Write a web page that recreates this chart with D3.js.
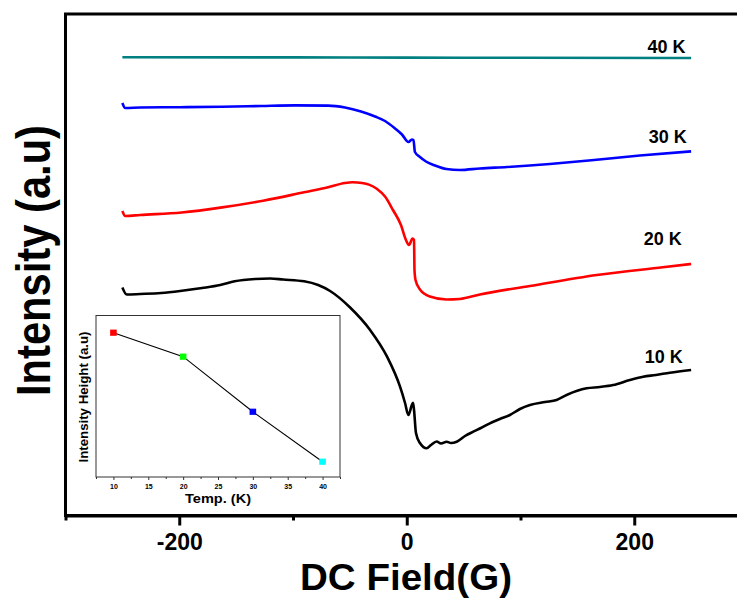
<!DOCTYPE html>
<html><head><meta charset="utf-8">
<script src="https://cdnjs.cloudflare.com/ajax/libs/d3/7.8.5/d3.min.js"></script>
<style>body{margin:0;background:#fff} svg{display:block}</style>
</head><body><svg id="c" width="737" height="599"></svg>
<script>
// ---- data ----
const fieldTicksMajor = [-200, 0, 200];
const fieldTicksMinor = [-300, -100, 100, 300];
const seriesNames = ["10 K", "20 K", "30 K", "40 K"];
const seriesColors = ["#000000", "#ff0000", "#0000ff", "#008080"];

const curve10K = [[-250,4.56],[-246.2,4.42],[-234.3,4.43],[-215.9,4.45],[-199.2,4.49],[-179.9,4.55],[-164,4.61],[-151.3,4.684],[-133.3,4.73],[-120.1,4.74],[-108.7,4.72],[-90.2,4.684],[-77.9,4.61],[-67.4,4.49],[-49.8,4.16],[-32.2,3.71],[-17.3,3.176],[-5.9,2.576],[-1.5,2.25],[1.4,2.01],[5.5,2.256],[6.4,2.11],[8.1,1.65],[11.6,1.45],[17.5,1.344],[21.3,1.41],[26.3,1.48],[30.1,1.44],[35.1,1.476],[38.9,1.45],[43.9,1.476],[51.2,1.59],[58.5,1.676],[65.2,1.75],[73.1,1.844],[81.9,1.93],[90.7,2.01],[99.5,2.13],[108.3,2.21],[121.5,2.27],[131.7,2.31],[140.5,2.41],[158.1,2.544],[169.8,2.57],[181.5,2.61],[196.2,2.71],[207.8,2.776],[219,2.81],[231.3,2.856],[250,2.91]];
const curve20K = [[-250,6.09],[-247.5,5.99],[-234.3,6.01],[-197.9,6.06],[-162.3,6.162],[-126.3,6.296],[-90.3,6.464],[-69.2,6.564],[-54.3,6.65],[-47.7,6.664],[-39.3,6.65],[-33.2,6.618],[-26.1,6.53],[-19.1,6.38],[-12.1,6.11],[-5.1,5.81],[-0.7,5.51],[2.0,5.41],[5.1,5.54],[6.4,5.51],[6.8,4.91],[7.7,4.71],[11.6,4.52],[20.4,4.38],[34.9,4.32],[46.7,4.33],[64.3,4.42],[108.3,4.59],[167.1,4.81],[225.1,4.964],[250,5.03]];
const curve30K = [[-250,8.25],[-247.5,8.15],[-234.3,8.16],[-199.2,8.166],[-162.3,8.174],[-128.2,8.19],[-98.2,8.202],[-69.2,8.198],[-54.3,8.16],[-40.2,8.08],[-27.9,7.98],[-19.1,7.89],[-10.3,7.74],[-4.2,7.62],[1.5,7.47],[4.6,7.52],[5.9,7.51],[7.2,7.27],[11.6,7.17],[16.9,7.08],[24.8,7.0],[34.9,6.93],[46.7,6.91],[64.3,6.94],[88.1,6.97],[125.8,7.03],[160.1,7.1],[204.9,7.2],[250,7.282]];
const curve40K = [[-250,9.164],[-100,9.162],[0,9.158],[100,9.155],[250,9.15]];
const labelAnchors = [[242.7,3.056],[241.8,5.41],[246.2,7.444],[245,9.256]];

const insetTemps = [10, 20, 30, 40];
const insetHeights = [0.8935, 0.745, 0.404, 0.0947];
const insetColors = ["#ff0000", "#00ff00", "#0000ff", "#00ffff"];
const insetTicksMajor = [10, 15, 20, 25, 30, 35, 40];
const insetTicksMinor = [7.5, 12.5, 17.5, 22.5, 27.5, 32.5, 37.5, 42.5];

// ---- drawing ----
const FONT = "'Liberation Sans', Arial, sans-serif";
const svg = d3.select("#c");
svg.append("rect").attr("width", 737).attr("height", 599).attr("fill", "#fff");

const x = d3.scaleLinear().domain([-300, 300]).range([65.5, 748]);
const y = d3.scaleLinear().domain([0, 10.03]).range([515.5, 14]);

// frame
svg.append("rect")
  .attr("x", x(-300)).attr("y", y(10.03))
  .attr("width", x(300) - x(-300)).attr("height", y(0) - y(10.03))
  .attr("fill", "none").attr("stroke", "#000").attr("stroke-width", 3);

// curves
const line = d3.line().x(d => x(d[0])).y(d => y(d[1])).curve(d3.curveMonotoneX);
const curves = [curve10K, curve20K, curve30K, curve40K];
curves.forEach((c, i) => {
  svg.append("path").datum(c).attr("d", line)
    .attr("fill", "none").attr("stroke", seriesColors[i])
    .attr("stroke-width", 2.6).attr("stroke-linejoin", "round");
});
// curve labels
seriesNames.forEach((n, i) => {
  svg.append("text").attr("x", x(labelAnchors[i][0])).attr("y", y(labelAnchors[i][1]))
    .attr("text-anchor", "end").attr("font-family", FONT).attr("font-weight", "bold")
    .attr("font-size", 18).attr("fill", "#000").text(n);
});

// x axis
const gx = svg.append("g").attr("transform", `translate(0,${y(0)})`)
  .call(d3.axisBottom(x).tickValues(fieldTicksMajor).tickSize(10).tickSizeOuter(0).tickFormat(d => String(d)));
gx.select(".domain").attr("stroke-width", 3);
gx.selectAll(".tick line").attr("stroke-width", 3);
gx.selectAll(".tick text").attr("y", 34.5).attr("dy", null)
  .attr("font-family", FONT).attr("font-weight", "bold").attr("font-size", 23).attr("fill", "#000");
const gxm = svg.append("g").attr("transform", `translate(0,${y(0)})`)
  .call(d3.axisBottom(x).tickValues(fieldTicksMinor).tickSize(5).tickSizeOuter(0).tickFormat(""));
gxm.select(".domain").remove();
gxm.selectAll(".tick line").attr("stroke-width", 3);

// axis titles
svg.append("text").attr("x", 406).attr("y", 590).attr("text-anchor", "middle")
  .attr("font-family", FONT).attr("font-weight", "bold").attr("font-size", 36)
  .attr("textLength", 212).attr("lengthAdjust", "spacingAndGlyphs").text("DC Field(G)");
svg.append("text").attr("transform", "translate(50,260.5) rotate(-90)").attr("text-anchor", "middle")
  .attr("font-family", FONT).attr("font-weight", "bold").attr("font-size", 48)
  .attr("textLength", 271).attr("lengthAdjust", "spacingAndGlyphs").text("Intensity (a.u)");

// ---- inset ----
const xi = d3.scaleLinear().domain([7.5, 42.5]).range([96, 340]);
const yi = d3.scaleLinear().domain([0, 1]).range([477, 315.5]);
svg.append("rect").attr("x", xi(7.5)).attr("y", yi(1)).attr("width", xi(42.5) - xi(7.5)).attr("height", yi(0) - yi(1))
  .attr("fill", "#fff").attr("stroke", "#333").attr("stroke-width", 1);
const gi = svg.append("g").attr("transform", `translate(0,${yi(0)})`)
  .call(d3.axisBottom(xi).tickValues(insetTicksMajor).tickSize(3).tickSizeOuter(0));
gi.select(".domain").remove();
gi.selectAll(".tick line").attr("stroke", "#333");
gi.selectAll(".tick text").attr("y", 11.7).attr("dy", null)
  .attr("font-family", FONT).attr("font-weight", "bold").attr("font-size", 7).attr("fill", "#000");
const gim = svg.append("g").attr("transform", `translate(0,${yi(0)})`)
  .call(d3.axisBottom(xi).tickValues(insetTicksMinor).tickSize(2).tickSizeOuter(0).tickFormat(""));
gim.select(".domain").remove();
gim.selectAll(".tick line").attr("stroke", "#333");

const insetPts = insetTemps.map((t, i) => [t, insetHeights[i]]);
svg.append("path").datum(insetPts)
  .attr("d", d3.line().x(d => xi(d[0])).y(d => yi(d[1])))
  .attr("fill", "none").attr("stroke", "#000").attr("stroke-width", 1.1);
svg.selectAll(".mk").data(insetPts).enter().append("rect")
  .attr("x", d => xi(d[0]) - 3.3).attr("y", d => yi(d[1]) - 3.1)
  .attr("width", 6.6).attr("height", 6.2)
  .attr("fill", (d, i) => insetColors[i]);

svg.append("text").attr("x", xi(25)).attr("y", 503.3).attr("text-anchor", "middle")
  .attr("font-family", FONT).attr("font-weight", "bold").attr("font-size", 13.5)
  .attr("textLength", 66).attr("lengthAdjust", "spacingAndGlyphs").text("Temp. (K)");
svg.append("text").attr("transform", "translate(88.3,397) rotate(-90)").attr("text-anchor", "middle")
  .attr("font-family", FONT).attr("font-weight", "bold").attr("font-size", 12.5)
  .attr("textLength", 131).attr("lengthAdjust", "spacingAndGlyphs").text("Intensity Height (a.u)");
</script></body></html>
